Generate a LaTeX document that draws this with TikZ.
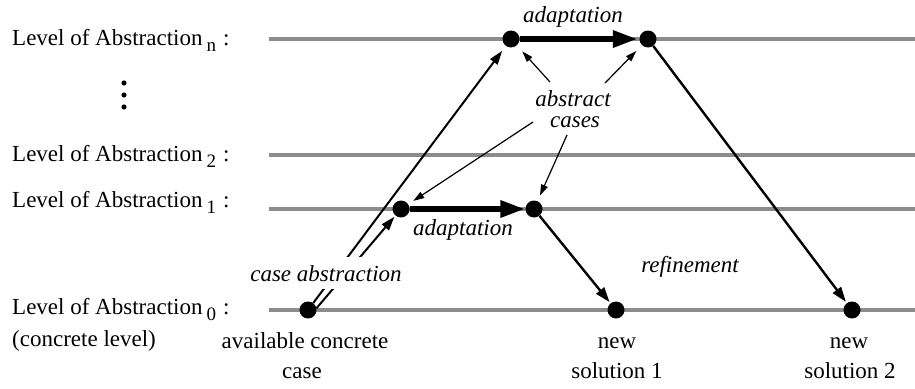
\documentclass[tikz,border=0pt]{standalone}
\usepackage{fontspec}
\setmainfont{Liberation Serif}
\usetikzlibrary{arrows.meta}
\definecolor{lvlgray}{HTML}{8C8C8C}
\begin{document}
\begin{tikzpicture}[x=1pt,y=-1pt,
  level/.style={draw=lvlgray, line width=4pt},
  dot/.style={circle, fill=black, inner sep=0pt, minimum size=17pt},
  arr/.style={-{Triangle[length=15pt,width=10pt]}, line width=2.4pt},
  arrs/.style={-{Triangle[length=14pt,width=9pt]}, line width=2pt},
  thin/.style={-{Triangle[length=11pt,width=7pt]}, line width=1.2pt},
  thick/.style={-{Triangle[length=25pt,width=16pt]}, line width=6pt},
  lbl/.style={font=\fontsize{23}{28}\selectfont, inner sep=0pt},
  itl/.style={font=\fontsize{23}{28}\selectfont\itshape, inner sep=0pt}]
\useasboundingbox (0,0) rectangle (915,388);
\newcommand{\sbx}[1]{\hspace{4pt}\raisebox{-6pt}{\fontsize{19}{19}\selectfont #1}\hspace{7pt}:}
% level lines
\draw[level] (269,39) -- (915,39);
\draw[level] (269,155) -- (915,155);
\draw[level] (269,209) -- (915,209);
\draw[level] (269,310) -- (915,310);
% left labels
\node[lbl, anchor=base west] (Ln) at (12,45) {Level of Abstraction\sbx{n}};
\node[lbl, anchor=base west] (L2) at (12,161) {Level of Abstraction\sbx{2}};
\node[lbl, anchor=base west] (L1) at (12,207) {Level of Abstraction\sbx{1}};
\node[lbl, anchor=base west] (L0) at (12,314) {Level of Abstraction\sbx{0}};
\node[lbl, anchor=base west] (Lc) at (12,346) {(concrete level)};
\fill (124,83) circle (2.6);
\fill (124,95) circle (2.6);
\fill (124,107) circle (2.6);
% dots
\node[dot] (A0) at (308,310) {};
\node[dot] (A1) at (401,209) {};
\node[dot] (B1) at (534,209) {};
\node[dot] (An) at (511,39) {};
\node[dot] (Bn) at (648,39) {};
\node[dot] (S1) at (616,310) {};
\node[dot] (S2) at (852,310) {};
% arrows
\draw[arrs, shorten >=6pt] (A0) -- (An);
\draw[arrs, shorten >=1.5pt] (A0.12) -- (A1);
\draw[thick, shorten >=0pt] (A1) -- (B1);
\draw[thick, shorten >=1.5pt] (An) -- (Bn);
\draw[arr, shorten >=1.5pt] (B1) -- (S1);
\draw[arr, shorten >=1.5pt] (Bn) -- (S2);
% case abstraction label over lines
\node[itl, fill=white, inner xsep=3pt, inner ysep=8pt, anchor=base] (ca) at (326,281) {case abstraction};
% adaptation labels
\node[itl, anchor=base] (ad1) at (463,235) {adaptation};
\node[itl, anchor=base] (adn) at (573,22) {adaptation};
\node[itl, anchor=base] (rf) at (690,272) {refinement};
% abstract cases
\node[itl, anchor=base] (abs1) at (573,106) {abstract};
\node[itl, anchor=base] (abs2) at (575,127) {cases};
\coordinate (t1) at (550,82);
\coordinate (t2) at (605,83);
\coordinate (t3) at (533,122);
\coordinate (t4) at (567,135);
\draw[thin, shorten >=8pt] (t1) -- (An);
\draw[thin, shorten >=8pt] (t2) -- (Bn);
\draw[thin, shorten >=6pt] (t3) -- (A1);
\draw[thin, shorten >=6pt] (t4) -- (B1);
% bottom labels
\node[lbl, anchor=base] (c1) at (305,348) {available concrete};
\node[lbl, anchor=base] (c2) at (302,378) {case};
\node[lbl, anchor=base] (n1) at (617,348) {new};
\node[lbl, anchor=base] (n2) at (617,378) {solution 1};
\node[lbl, anchor=base] (m1) at (849,348) {new};
\node[lbl, anchor=base] (m2) at (850,378) {solution 2};
\end{tikzpicture}
\end{document}
